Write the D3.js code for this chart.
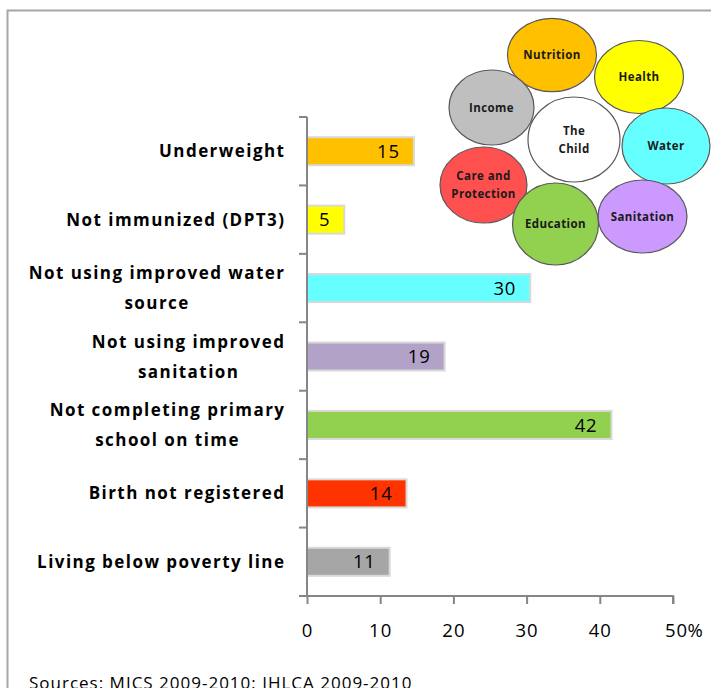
<!DOCTYPE html>
<html>
<head>
<meta charset="utf-8">
<script src="https://cdn.jsdelivr.net/npm/d3@7"></script>
<style>
  html, body { margin: 0; padding: 0; background: #fff; overflow: hidden; }
  svg { display: block; }
</style>
</head>
<body>
<svg id="chart" width="711" height="688"></svg>
<script>
// ---- data ----
const categories = [
  "Underweight",
  "Not immunized (DPT3)",
  "Not using improved water source",
  "Not using improved sanitation",
  "Not completing primary school on time",
  "Birth not registered",
  "Living below poverty line"
];
const categoryLines = [
  ["Underweight"],
  ["Not immunized (DPT3)"],
  ["Not using improved water", "source"],
  ["Not using improved", "sanitation"],
  ["Not completing primary", "school on time"],
  ["Birth not registered"],
  ["Living below poverty line"]
];
const values = [14.6, 5.1, 30.5, 18.8, 41.6, 13.6, 11.3];
const valueLabels = ["15", "5", "30", "19", "42", "14", "11"];
const barColors = ["#FFC000", "#FFFF00", "#66FFFF", "#B3A2C7", "#92D050", "#FF3300", "#A6A6A6"];
const xTicks = [0, 10, 20, 30, 40, 50];
const sourceText = "Sources: MICS 2009-2010; IHLCA 2009-2010";

// diagram bubbles (decorative inset)
const bubbleNames = ["Nutrition", "Health", "Income", "The Child", "Water", "Care and Protection", "Sanitation", "Education"];
const bubbleLines = [["Nutrition"], ["Health"], ["Income"], ["The", "Child"], ["Water"], ["Care and", "Protection"], ["Sanitation"], ["Education"]];
const bubbleColors = ["#FFC000", "#FFFF00", "#BFBFBF", "#FFFFFF", "#66FFFF", "#FF5050", "#CC99FF", "#92D050"];
const bubbleCx = [552, 639, 491.5, 574, 666, 483.5, 642.5, 555.5];
const bubbleCy = [55, 77, 107.5, 139.5, 146, 185, 216.5, 224];
const bubbleRx = [44.5, 44.5, 42.5, 46, 44, 43.5, 44.5, 43];
const bubbleRy = [36.7, 36.5, 37.5, 42.5, 38, 38, 36.5, 41];

// ---- drawing ----
const svg = d3.select("#chart");
const font = "'Open Sans', Lato, sans-serif";

// outer frame
svg.append("rect")
  .attr("x", 7.5).attr("y", 10.5)
  .attr("width", 720).attr("height", 700)
  .attr("fill", "none").attr("stroke", "#A6A6A6").attr("stroke-width", 2);

const x = d3.scaleLinear().domain([0, 50]).range([307, 673]);
const y = d3.scaleBand().domain(categories).range([117, 596]).paddingInner(0.59).paddingOuter(0.295);
const yb = d3.scaleBand().domain(categories).range([117, 596]); // for ticks

// bars
const bars = svg.append("g");
bars.selectAll("rect").data(categories).join("rect")
  .attr("x", x(0))
  .attr("y", d => y(d))
  .attr("width", (d, i) => x(values[i]) - x(0))
  .attr("height", y.bandwidth())
  .attr("fill", (d, i) => barColors[i])
  .attr("stroke", "#D9D9D9")
  .attr("stroke-width", 2);

bars.selectAll("text").data(categories).join("text")
  .attr("x", (d, i) => x(values[i]) - 14)
  .attr("y", d => y(d) + y.bandwidth() / 2)
  .attr("dy", "0.36em")
  .attr("text-anchor", "end")
  .attr("font-family", font)
  .attr("font-size", 18.5)
  .attr("letter-spacing", 0.8)
  .attr("fill", "#000")
  .text((d, i) => valueLabels[i]);

// y axis
const yAxisG = svg.append("g");
yAxisG.append("line")
  .attr("x1", x(0)).attr("x2", x(0))
  .attr("y1", 117).attr("y2", 597)
  .attr("stroke", "#868686").attr("stroke-width", 2);
const bounds = categories.map(c => yb(c)).concat([596]);
yAxisG.selectAll("line.tk").data(bounds).join("line")
  .attr("class", "tk")
  .attr("x1", x(0) - 8).attr("x2", x(0))
  .attr("y1", d => d).attr("y2", d => d)
  .attr("stroke", "#868686").attr("stroke-width", 2);

// category labels
const catG = svg.append("g");
const ls = 1.45;
categories.forEach((c, i) => {
  const lines = categoryLines[i];
  const cy = yb(c) + yb.bandwidth() / 2;
  const lh = 30;
  const g = catG.append("g");
  const texts = lines.map((ln, k) => g.append("text")
    .attr("y", cy + (k - (lines.length - 1) / 2) * lh)
    .attr("dy", "0.36em")
    .attr("font-family", font)
    .attr("font-weight", "bold")
    .attr("font-size", 17)
    .attr("letter-spacing", ls)
    .attr("fill", "#000")
    .text(ln));
  const widths = texts.map(t => t.node().getComputedTextLength());
  const maxW = d3.max(widths);
  const right = 284 + ls;
  texts.forEach((t, k) => t.attr("x", right - maxW / 2 - widths[k] / 2).attr("text-anchor", "start"));
});

// x axis
const xAxis = d3.axisBottom(x).tickValues(xTicks).tickSize(8).tickPadding(20).tickFormat(d3.format("d"));
const xg = svg.append("g").attr("transform", "translate(0,596)").call(xAxis);
xg.select(".domain").attr("stroke", "#868686").attr("stroke-width", 2).attr("d", `M${x(0)},0H${x(50)}V8`);
xg.selectAll(".tick line").attr("stroke", "#868686").attr("stroke-width", 2);
xg.selectAll(".tick text")
  .attr("font-family", font)
  .attr("font-size", 18.5)
  .attr("letter-spacing", 1)
  .attr("fill", "#000");
// percent sign after the last tick label
const lastTick = xg.selectAll(".tick text").filter(d => d === 50);
const lw = lastTick.node().getComputedTextLength();
svg.append("text")
  .attr("x", x(50) + 3 + lw / 2)
  .attr("y", 596 + 8 + 20)
  .attr("dy", "0.71em")
  .attr("font-family", font)
  .attr("font-size", 18.5)
  .attr("fill", "#000")
  .text("%");
lastTick.attr("x", 3);

// source
svg.append("text")
  .attr("x", 29).attr("y", 689)
  .attr("font-family", font)
  .attr("font-size", 17)
  .attr("letter-spacing", 1)
  .attr("fill", "#000")
  .text(sourceText);

// bubbles
const bg = svg.append("g");
bubbleNames.forEach((n, i) => {
  const g = bg.append("g");
  g.append("ellipse")
    .attr("cx", bubbleCx[i]).attr("cy", bubbleCy[i])
    .attr("rx", bubbleRx[i]).attr("ry", bubbleRy[i])
    .attr("fill", bubbleColors[i])
    .attr("stroke", "#595959").attr("stroke-width", 1.2);
  const lines = bubbleLines[i];
  lines.forEach((ln, k) => {
    g.append("text")
      .attr("x", bubbleCx[i])
      .attr("y", bubbleCy[i] + (k - (lines.length - 1) / 2) * 18)
      .attr("dy", "0.36em")
      .attr("text-anchor", "middle")
      .attr("font-family", font)
      .attr("font-weight", "bold")
      .attr("font-size", 11.5)
      .attr("letter-spacing", 0.4)
      .attr("fill", "#1a1a1a")
      .text(ln);
  });
});
</script>
</body>
</html>
